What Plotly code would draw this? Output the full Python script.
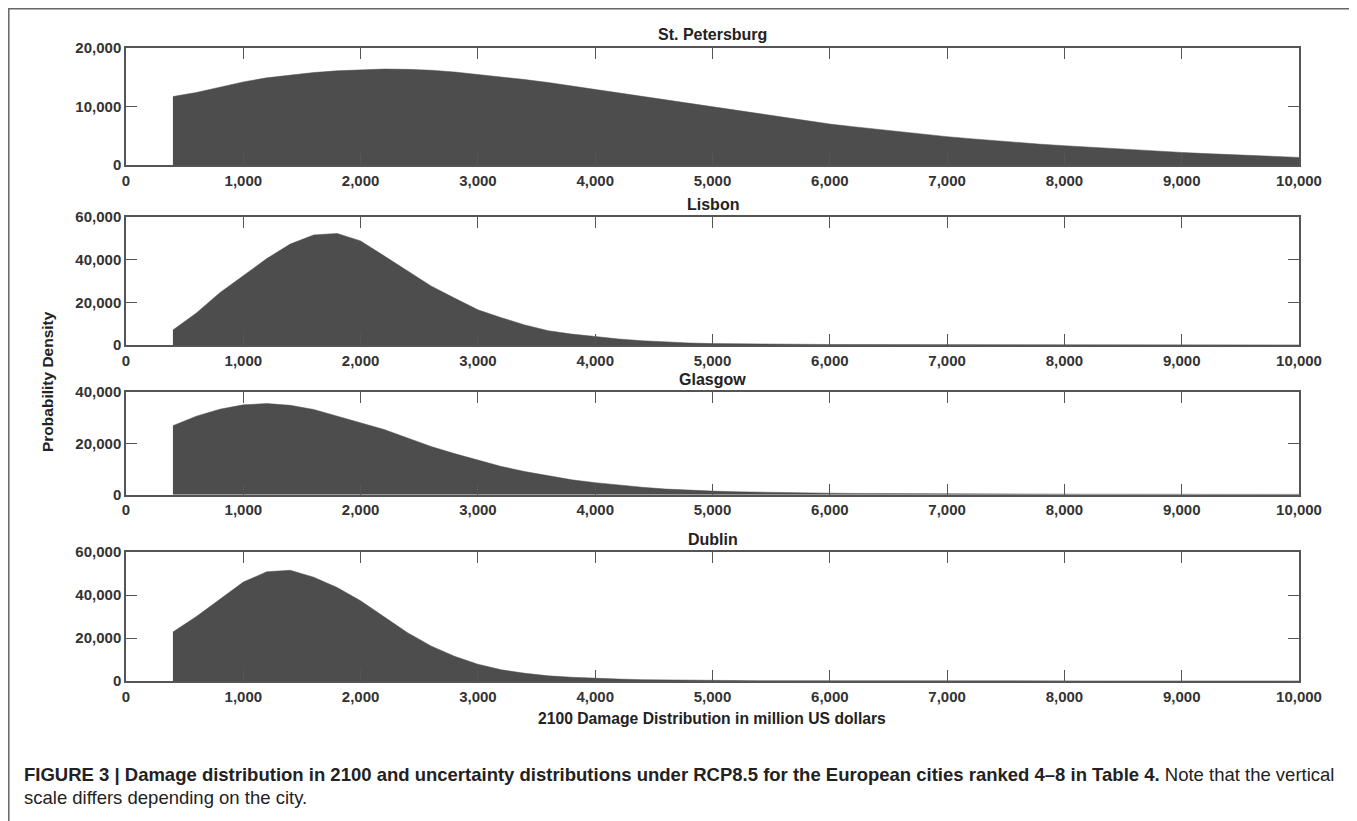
import plotly.graph_objects as go

# Damage bins (million US dollars), sampled every 200 from 400 to 10,000
damage = list(range(400, 10001, 200))

st_petersburg = [11700, 12400, 13300, 14200, 14900, 15400, 15800, 16100, 16300, 16400,
                 16350, 16200, 15900, 15500, 15100, 14600, 14100, 13500, 12900, 12300,
                 11700, 11100, 10500, 9900, 9300, 8700, 8100, 7550, 7000, 6550,
                 6100, 5650, 5250, 4850, 4500, 4150, 3850, 3550, 3300, 3050,
                 2800, 2550, 2350, 2150, 1950, 1800, 1600, 1450, 1300]

lisbon = [7000, 15000, 24500, 32500, 40500, 47300, 51600, 52300, 48800, 41800,
          34700, 27700, 22000, 16500, 12800, 9400, 6700, 5100, 4000, 2800,
          2000, 1400, 950, 650, 500, 400, 330, 280, 240, 210,
          190, 170, 150, 140, 130, 120, 110, 100, 90, 85,
          80, 75, 70, 65, 60, 55, 50, 48, 45]

glasgow = [26900, 30600, 33300, 35000, 35500, 34800, 33200, 30700, 28200, 25400,
           22100, 18800, 16000, 13600, 11000, 9000, 7300, 5800, 4700, 3700,
           2900, 2200, 1700, 1400, 1150, 950, 800, 680, 580, 500,
           440, 390, 350, 320, 290, 270, 250, 230, 215, 200,
           190, 180, 170, 160, 150, 145, 140, 135, 130]

dublin = [22800, 30000, 38000, 46000, 50800, 51500, 48300, 43500, 37300, 30000,
          22500, 16300, 11500, 7800, 5200, 3600, 2400, 1750, 1250, 900,
          620, 450, 330, 260, 210, 170, 140, 120, 105, 95,
          85, 78, 72, 66, 60, 56, 52, 49, 46, 44,
          42, 40, 38, 36, 35, 34, 33, 32, 30]

cities = ["St. Petersburg", "Lisbon", "Glasgow", "Dublin"]
series = [st_petersburg, lisbon, glasgow, dublin]
y_max = [20000, 60000, 40000, 60000]
y_dtick = [10000, 20000, 20000, 20000]
x_ticks = list(range(0, 10001, 1000))

# layout geometry (page pixels; the page body adds an 8px offset)
OFF = 8
W, H = 1357 - OFF, 821 - OFF
PL, PR, PT, PB = 126, 1299, 48, 681   # plot area in page pixels
plot_w = PR - PL
plot_h = PB - PT
L = PL - OFF
T = PT - OFF
R = W - L - plot_w
B = H - T - plot_h
panels_px = [(48, 165), (217, 345), (392, 494.7), (552, 681)]
title_px = [35, 204, 380, 539]


def py(ypx):
    return (PB - ypx) / plot_h


def px(xpx):
    return (xpx - PL) / plot_w


FONT = "Liberation Sans, Arial, sans-serif"
fill_col = "#4d4d4d"
axis_col = "#555555"
tick_font = dict(family=FONT, size=15, color="#333333", weight="bold")

fig = go.Figure()
layout = dict(
    width=W, height=H,
    margin=dict(l=L, r=R, t=T, b=B, pad=0),
    paper_bgcolor="white", plot_bgcolor="white",
    showlegend=False,
)

for i, (name, vals) in enumerate(zip(cities, series)):
    n = "" if i == 0 else str(i + 1)
    fig.add_trace(go.Scatter(
        x=damage, y=vals, mode="lines", fill="tozeroy",
        line=dict(color=fill_col, width=0.5), fillcolor=fill_col,
        xaxis="x" + n, yaxis="y" + n, name=name, hoverinfo="x+y",
    ))
    top, bot = panels_px[i]
    layout["xaxis" + n] = dict(
        domain=[0, 1], anchor="y" + n, range=[0, 10000],
        tickvals=x_ticks, tickformat=",d", ticks="inside", ticklen=11,
        tickwidth=1.3, tickcolor=axis_col, showline=True, linecolor=axis_col,
        linewidth=1.5, mirror="ticks", showgrid=False, zeroline=False,
        tickfont=tick_font, ticklabelstandoff=1,
    )
    layout["yaxis" + n] = dict(
        domain=[py(bot), py(top)], anchor="x" + n, range=[0, y_max[i]],
        dtick=y_dtick[i], tick0=0, tickformat=",d", ticks="inside", ticklen=11,
        tickwidth=1.3, tickcolor=axis_col, showline=True, linecolor=axis_col,
        linewidth=1.5, mirror="ticks", showgrid=False, zeroline=False,
        tickfont=tick_font, ticklabelstandoff=0,
    )

annotations = []
for i, name in enumerate(cities):
    annotations.append(dict(
        text=name, xref="paper", yref="paper", x=0.5, y=py(title_px[i]),
        xanchor="center", yanchor="middle", showarrow=False,
        font=dict(family=FONT, size=16, color="#222222", weight="bold"),
    ))

annotations.append(dict(
    text="Probability Density", xref="paper", yref="paper", x=px(47), y=py(382),
    xanchor="center", yanchor="middle", textangle=-90, showarrow=False,
    font=dict(family=FONT, size=15.5, color="#222222", weight="bold"),
))
annotations.append(dict(
    text="2100 Damage Distribution in million US dollars", xref="paper", yref="paper",
    x=px(712), y=py(718), xanchor="center", yanchor="middle", showarrow=False,
    font=dict(family=FONT, size=15.7, color="#222222", weight="bold"),
))
annotations.append(dict(
    text="<b>FIGURE 3 | Damage distribution in 2100 and uncertainty distributions under RCP8.5 "
         "for the European cities ranked 4–8 in Table 4.</b> Note that the vertical",
    xref="paper", yref="paper", x=px(22), y=py(775), xanchor="left", yanchor="middle",
    showarrow=False, align="left",
    font=dict(family=FONT, size=18.5, color="#222222"),
))
annotations.append(dict(
    text="scale differs depending on the city.",
    xref="paper", yref="paper", x=px(22), y=py(797), xanchor="left", yanchor="middle",
    showarrow=False, align="left",
    font=dict(family=FONT, size=18.5, color="#222222"),
))
layout["annotations"] = annotations

layout["shapes"] = [dict(
    type="rect", xref="paper", yref="paper",
    x0=px(8.8), x1=px(1352.5), y0=py(840), y1=py(8.8),
    line=dict(color="#666666", width=1.5), fillcolor="rgba(0,0,0,0)", layer="below",
)]

fig.update_layout(**layout)
fig.write_html("out.html")
